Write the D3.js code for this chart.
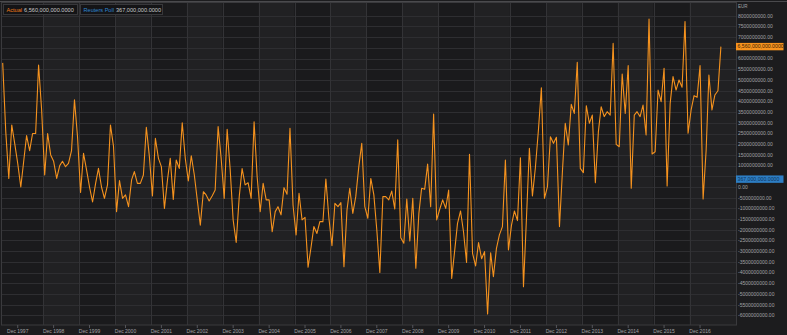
<!DOCTYPE html>
<html><head><meta charset="utf-8">
<script src="https://cdn.jsdelivr.net/npm/d3@7"></script>
<style>
html,body{margin:0;padding:0;background:#1c1c1e;overflow:hidden;}
svg{display:block;font-family:"Liberation Sans",Arial,sans-serif;}
</style></head><body>
<svg id="c" width="787" height="335"></svg>
<script>
// ---- data (monthly, EUR billions) ----
const startMonth = [1997, 7];
const actualBn = [
 5.8,2.6,0.4,2.9,2.0,1.1,0.0,1.26,2.4,1.7,2.5,2.5,
 5.7,3.6,0.56,2.5,1.5,1.2,0.4,1.0,1.2,0.95,1.1,1.7,
 4.07,2.35,-0.26,1.57,0.8,0.0,-0.7,0.17,0.87,0.0,-0.53,0.1,
 2.9,1.9,-1.15,0.3,-0.53,-0.37,-0.92,0.33,0.72,0.17,0.17,0.56,
 2.79,1.42,-0.42,2.27,1.34,0.95,-1.0,0.33,1.34,-0.58,1.26,0.87,
 3.0,1.34,0.28,1.46,0.56,-0.6,-1.78,-0.22,-0.37,-0.65,-0.42,-0.14,
 2.82,1.34,-0.53,2.7,0.8,-1.54,-2.59,-0.45,0.86,0.1,0.2,-0.53,
 3.05,0.48,-1.15,0.17,-0.6,-0.6,-2.09,-1.15,-0.92,-1.3,-0.03,-0.34,
 2.74,-0.84,-2.24,-0.3,-1.54,-1.42,-3.75,-2.79,-1.85,-2.17,-1.62,-1.62,
 0.37,-1.46,-2.74,-0.76,-0.92,-0.73,-3.72,-1.07,-0.06,-1.23,-0.45,0.95,
 2.04,-0.92,-1.46,0.4,-0.37,-2.0,-3.99,-0.45,-0.45,-0.6,-0.19,-1.03,
 2.2,-2.37,-2.63,-0.56,-2.52,-0.53,-3.8,-1.23,-0.06,-0.11,1.07,-0.92,
 3.41,-1.54,-1.04,-0.6,-1.0,-0.14,-4.27,-2.94,-1.7,-1.12,-2.09,-3.52,
 1.53,-3.1,-3.69,-2.6,-3.35,-3.02,-5.93,-3.07,-4.19,-2.87,-2.24,-1.85,
 1.26,-2.94,-1.78,-1.12,-1.57,1.37,-4.66,-1.39,1.81,-0.42,0.9,2.66,
 4.64,-0.53,0.02,2.35,2.04,2.32,-1.85,0.8,2.98,1.96,3.86,3.44,
 5.83,0.87,0.67,3.8,2.98,3.36,0.2,2.59,3.75,3.29,3.52,3.36,
 6.71,1.99,1.88,5.28,3.44,5.67,-0.06,3.36,3.52,3.29,3.83,2.43,
 7.85,1.54,1.65,4.53,3.99,5.55,0.05,3.91,5.16,4.53,5.0,4.66,
 7.73,2.51,3.6,4.27,4.19,5.67,-0.56,1.73,5.23,3.6,4.3,4.5,
 6.56
];
const yTickValues = d3.range(-6e9, 8e9 + 1, 5e8);
const xTickYears = d3.range(1997, 2017);
const bandYears = d3.range(1998, 2017);
const unitLabel = "EUR";
const actualLast = 6560000000;
const pollValue = 367000000;
const legendItems = [
  {name: "Actual", value: "6,560,000,000.0000", color: "#ef7d1a"},
  {name: "Reuters Poll", value: "367,000,000.0000", color: "#2f86d0"}
];

// ---- layout ----
const W = 787, H = 335;
const plot = {l: 1, r: 736, t: 3, b: 325};
const svg = d3.select("#c");

const data = actualBn.map((v, i) => ({
  date: new Date(startMonth[0], startMonth[1] - 1 + i, 1),
  value: v * 1e9
}));

const x = d3.scaleTime()
  .domain([new Date(1997, 6, 1), new Date(2017, 6, 1)])
  .range([2.7, 720.9]);
const y = d3.scaleLinear().domain([-6e9, 8e9]).range([315.4, 15.8]);

svg.append("rect").attr("width", W).attr("height", H).attr("fill", "#1c1c1e");

// alternating year bands
const bounds = [plot.l, ...bandYears.map(yr => x(new Date(yr, 7, 16))), plot.r];
for (let i = 0; i < bounds.length - 1; i++) {
  svg.append("rect")
    .attr("x", bounds[i]).attr("y", plot.t)
    .attr("width", bounds[i + 1] - bounds[i]).attr("height", plot.b - plot.t)
    .attr("fill", i % 2 === 0 ? "#1a1a1c" : "#212123");
}

// horizontal grid
svg.append("g").selectAll("line").data(yTickValues).join("line")
  .attr("x1", plot.l).attr("x2", plot.r)
  .attr("y1", d => Math.round(y(d)) + 0.5).attr("y2", d => Math.round(y(d)) + 0.5)
  .attr("stroke", "#2e2e31").attr("stroke-width", 1);

// vertical grid
svg.append("g").selectAll("line").data(bandYears).join("line")
  .attr("x1", d => Math.round(x(new Date(d, 7, 16))) + 0.5)
  .attr("x2", d => Math.round(x(new Date(d, 7, 16))) + 0.5)
  .attr("y1", plot.t).attr("y2", plot.b)
  .attr("stroke", "#333336").attr("stroke-width", 1);

// frame
svg.append("rect").attr("x", plot.l + 0.5).attr("y", plot.t - 0.5)
  .attr("width", plot.r - plot.l).attr("height", plot.b - plot.t + 0.5)
  .attr("fill", "none").attr("stroke", "#3a3a3d").attr("stroke-width", 1);
svg.append("line").attr("x1", 0).attr("x2", W).attr("y1", 1.5).attr("y2", 1.5)
  .attr("stroke", "#4a4a4d");

// line
svg.append("clipPath").attr("id", "clip").append("rect")
  .attr("x", plot.l).attr("y", plot.t).attr("width", plot.r - plot.l).attr("height", plot.b - plot.t);
svg.append("path").datum(data)
  .attr("clip-path", "url(#clip)")
  .attr("fill", "none").attr("stroke", "#f5921e").attr("stroke-width", 1.1)
  .attr("stroke-linejoin", "round")
  .attr("d", d3.line().x(d => x(d.date)).y(d => y(d.value)));

// right axis labels (those hidden behind the value tags are skipped)
const tagValues = [actualLast, pollValue];
const fmt = v => v.toFixed(2);
const visibleTicks = yTickValues.filter(v => tagValues.every(t => Math.abs(y(v) - y(t)) > 6.5));
svg.append("g").selectAll("text").data(visibleTicks).join("text")
  .attr("x", 738).attr("y", d => y(d) + 1.8)
  .attr("font-size", 5).attr("fill", "#a3a3a6")
  .text(fmt);
svg.append("text").attr("x", 738).attr("y", 8).attr("font-size", 4.5)
  .attr("fill", "#a3a3a6").text(unitLabel);

// highlight labels
function tag(val, txt, fill, tc) {
  const yy = y(val);
  svg.append("rect").attr("x", 736).attr("y", yy - 3.7).attr("width", 47.5).attr("height", 7.4)
    .attr("fill", fill);
  svg.append("text").attr("x", 737.5).attr("y", yy + 1.8).attr("font-size", 5.2)
    .attr("fill", tc).text(txt);
}
tag(actualLast, legendItems[0].value, "#f7931e", "#3b1f05");
tag(pollValue, legendItems[1].value, "#2d7ec4", "#0f3358");

// x axis
const xg = svg.append("g");
xTickYears.forEach(yr => {
  const xx = x(new Date(yr, 11, 1));
  xg.append("line").attr("x1", xx).attr("x2", xx).attr("y1", plot.b).attr("y2", plot.b + 3)
    .attr("stroke", "#55555a");
  xg.append("text").attr("x", xx).attr("y", 333).attr("text-anchor", "middle")
    .attr("font-size", 5).attr("fill", "#a3a3a6").text("Dec " + yr);
});

// legend
const lg = svg.append("g");
const boxes = [{x: 3.5, w: 74}, {x: 80.5, w: 82}];
legendItems.forEach((it, i) => {
  const b = boxes[i];
  lg.append("rect").attr("x", b.x).attr("y", 4.5).attr("width", b.w).attr("height", 10)
    .attr("fill", "#141416").attr("stroke", "#38383b");
  const t = lg.append("text").attr("x", b.x + 3).attr("y", 11.6).attr("font-size", 5.6);
  t.append("tspan").attr("fill", it.color).text(it.name);
  t.append("tspan").attr("fill", "#c9c9cc").attr("dx", 2).text(it.value);
});
</script>
</body></html>
